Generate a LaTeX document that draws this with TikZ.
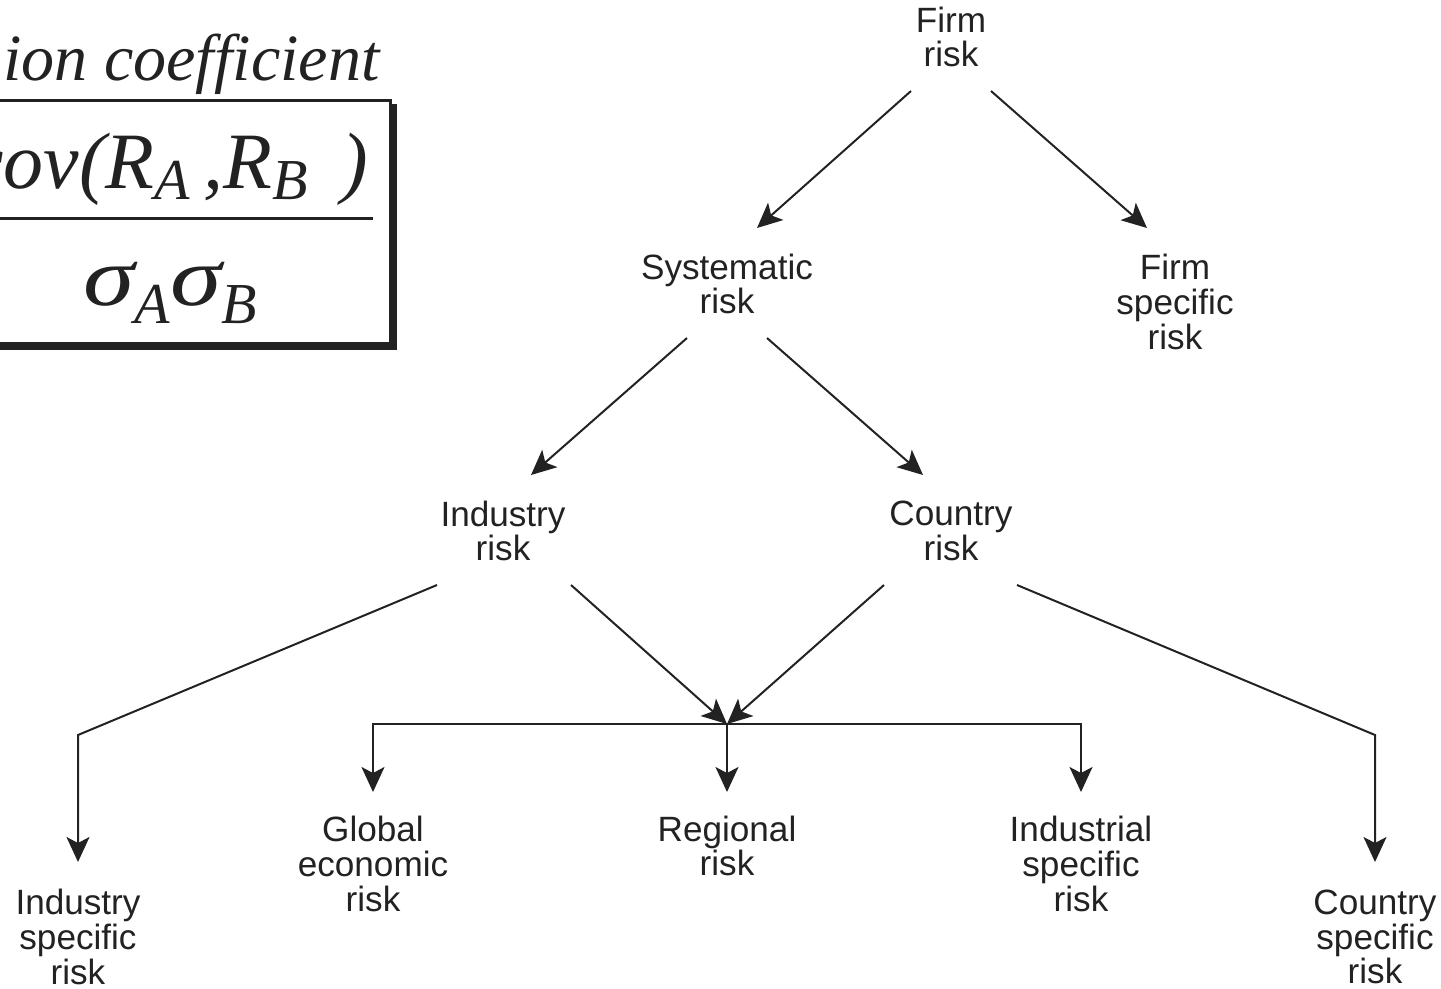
\documentclass[tikz,border=0pt]{standalone}
\usepackage{fontspec}
\setmainfont{Liberation Serif}
\newfontfamily\arialf{Liberation Sans}
\usetikzlibrary{arrows.meta,calc}
\definecolor{ink}{HTML}{222222}
\tikzset{
  lbl/.style={font=\arialf\fontsize{20pt}{19.8pt}\selectfont, align=center, inner sep=0pt, text=ink},
  arr/.style={draw=ink, line width=0.04cm, -{Stealth[length=0.5cm,width=0.46cm,inset=0.12cm]}},
}
\newcommand{\bigsub}[1]{\raisebox{-0.22cm}{\fontsize{33pt}{33pt}\selectfont #1}}
\newcommand{\densub}[1]{\raisebox{-0.36cm}{\fontsize{33pt}{33pt}\selectfont #1}}
\newcommand{\widesig}{\scalebox{1.3}[1.05]{σ}}
\begin{document}
\begin{tikzpicture}[x=0.02cm,y=-0.02cm]
\useasboundingbox (0,0) rectangle (1441,988);
% formula fragment
\node[anchor=base west, inner sep=0pt, font=\itshape\fontsize{37.6pt}{38pt}\selectfont, text=ink] (title) at (3,80) {ion coefficient};
\node[anchor=base east, inner sep=0pt, font=\itshape\fontsize{45.5pt}{46pt}\selectfont, text=ink] (num) at (368,188) {cov(R\bigsub{A}\,,R\bigsub{B}\ \,)};
\node[anchor=base, inner sep=0pt, font=\itshape\fontsize{45.5pt}{46pt}\selectfont, text=ink] (den) at (170,305) {\widesig\densub{A}\widesig\densub{B}};
\draw[ink, line width=0.06cm] (0,218) -- (373,218);
\draw[ink, line width=0.06cm] (-10,100) -- (390,100) -- (390,343) -- (-10,343);
\draw[ink, line width=0.1cm] (394,104) -- (394,347) -- (-10,347);
% tree nodes
\node[lbl] (firm) at (951,37) {Firm\\risk};
\node[lbl] (sys) at (727,284) {Systematic\\risk};
\node[lbl] (fs) at (1175,302) {Firm\\specific\\risk};
\node[lbl] (ind) at (503,531) {Industry\\risk};
\node[lbl] (cty) at (951,531) {Country\\risk};
\node[lbl] (glob) at (373,864) {Global\\economic\\risk};
\node[lbl] (reg) at (727,846) {Regional\\risk};
\node[lbl] (indl) at (1081,864) {Industrial\\specific\\risk};
\node[lbl] (indspec) at (78,937) {Industry\\specific\\risk};
\node[lbl] (ctyspec) at (1375,937) {Country\\specific\\risk};
\coordinate (hub) at (727,724);
% connectors
\draw[arr] ([shift={(-40,54)}]firm.center) -- ([shift={(30,-56)}]sys.center);
\draw[arr] ([shift={(40,54)}]firm.center) -- ([shift={(-28,-74)}]fs.center);
\draw[arr] ([shift={(-40,54)}]sys.center) -- ([shift={(28,-56)}]ind.center);
\draw[arr] ([shift={(40,54)}]sys.center) -- ([shift={(-28,-56)}]cty.center);
\draw[arr] ([shift={(68,54)}]ind.center) -- (hub);
\draw[arr] ([shift={(-67,54)}]cty.center) -- (hub);
\draw[arr] (hub) -| ([shift={(0,-72)}]glob.center);
\draw[arr] (hub) -- ([shift={(0,-54)}]reg.center);
\draw[arr] (hub) -| ([shift={(0,-72)}]indl.center);
\draw[arr] ([shift={(-66,54)}]ind.center) -- ([shift={(0,-202)}]indspec.center) -- ([shift={(0,-75)}]indspec.center);
\draw[arr] ([shift={(66,54)}]cty.center) -- ([shift={(0,-202)}]ctyspec.center) -- ([shift={(0,-75)}]ctyspec.center);
\end{tikzpicture}
\end{document}
